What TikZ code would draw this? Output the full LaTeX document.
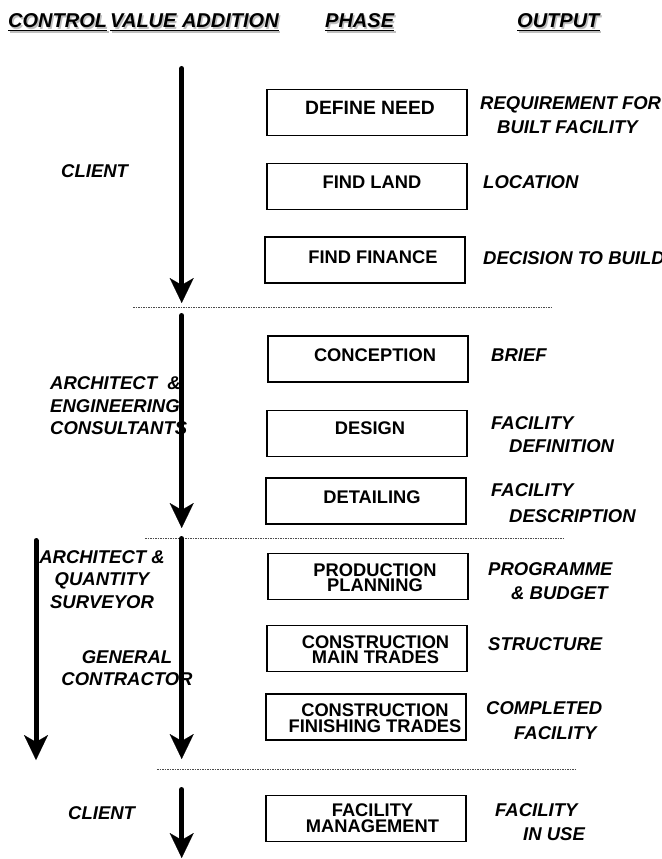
\documentclass[tikz,border=0pt]{standalone}
\usepackage{fontspec}
\setmainfont{Liberation Sans}
\usetikzlibrary{arrows.meta}
\tikzset{
  px/.style={x=1pt,y=-1pt},
  box/.style={draw=black,line width=1.1pt,minimum width=200pt,minimum height=46pt,inner sep=0pt},
  phase/.style={font=\fontsize{18.3}{15.5}\selectfont\bfseries,align=center,inner sep=0pt},
  outlbl/.style={font=\fontsize{18.5}{22}\selectfont\bfseries\itshape,anchor=west,inner sep=0pt},
  ctrl/.style={font=\fontsize{18.5}{22.5}\selectfont\bfseries\itshape,inner sep=0pt},
  head/.style={font=\fontsize{20}{24}\selectfont\bfseries\itshape,anchor=base west,inner sep=0pt},
  headshadow/.style={head,text=gray!50},
  uline/.style={line width=1.5pt},
  sep/.style={draw=gray!60!black,line width=0.8pt,dash pattern=on 1.5pt off 1pt},
  flow/.style={line width=5pt,line cap=round,-{Stealth[length=25pt,width=24pt,inset=7pt,line width=0.1pt]}},
}
\begin{document}
\begin{tikzpicture}[px]
\clip (0,0) rectangle (661,859);
\fill[white] (0,0) rectangle (661,859);

% ---------- header (shadow, then text) ----------
\node[headshadow] (h1s) at (9.5,29.5) {CONTROL};
\node[headshadow] (h2s) at (111.5,29.5) {VALUE ADDITION};
\node[headshadow] (h3s) at (326.5,29.5) {PHASE};
\node[headshadow] (h4s) at (518.5,29.5) {OUTPUT};
\foreach \n in {h1s,h2s,h3s,h4s}
  \draw[uline,gray!50] ([yshift=-2.5pt]\n.base west) -- ([yshift=-2.5pt]\n.base east);
\node[head] (h1) at (8,28) {CONTROL};
\node[head] (h2) at (110,28) {VALUE ADDITION};
\node[head] (h3) at (325,28) {PHASE};
\node[head] (h4) at (517,28) {OUTPUT};
\foreach \n in {h1,h2,h3,h4}
  \draw[uline] ([yshift=-2.5pt]\n.base west) -- ([yshift=-2.5pt]\n.base east);

% ---------- phase boxes ----------
\node[box] (b1) at (367,112.5) {};
\node[box] (b2) at (367,186.5) {};
\node[box] (b3) at (365,260) {};
\node[box] (b4) at (368,359) {};
\node[box] (b5) at (367,433.5) {};
\node[box] (b6) at (366,501) {};
\node[box] (b7) at (368,576.5) {};
\node[box] (b8) at (367,648.5) {};
\node[box] (b9) at (366,717) {};
\node[box] (b10) at (366,818.5) {};

\node[phase,font=\fontsize{19.3}{16}\selectfont\bfseries] (t1) at (370,108) {DEFINE NEED};
\node[phase] (t2) at (372,182) {FIND LAND};
\node[phase] (t3) at (373,257) {FIND FINANCE};
\node[phase] (t4) at (375,355) {CONCEPTION};
\node[phase] (t5) at (370,428) {DESIGN};
\node[phase] (t6) at (372,497) {DETAILING};
\node[phase] (t7) at (375,577.5) {PRODUCTION\\PLANNING};
\node[phase] (t8) at (375.5,649.5) {CONSTRUCTION\\MAIN TRADES};
\node[phase] (t9) at (375,718) {CONSTRUCTION\\FINISHING TRADES};
\node[phase] (t10) at (372.5,818) {FACILITY\\MANAGEMENT};

% ---------- outputs ----------
\node[outlbl] (o1a) at (480,105) {REQUIREMENT FOR};
\node[outlbl] (o1b) at (497,127) {BUILT FACILITY};
\node[outlbl] (o2) at (483,182) {LOCATION};
\node[outlbl] (o3) at (483,258) {DECISION TO BUILD};
\node[outlbl] (o4) at (491,355) {BRIEF};
\node[outlbl] (o5a) at (491,423) {FACILITY};
\node[outlbl] (o5b) at (509,446) {DEFINITION};
\node[outlbl] (o6a) at (491,490) {FACILITY};
\node[outlbl] (o6b) at (509,516) {DESCRIPTION};
\node[outlbl] (o7a) at (488,569) {PROGRAMME};
\node[outlbl] (o7b) at (511,593) {\& BUDGET};
\node[outlbl] (o8) at (488,644) {STRUCTURE};
\node[outlbl] (o9a) at (486,708) {COMPLETED};
\node[outlbl] (o9b) at (514,733) {FACILITY};
\node[outlbl] (o10a) at (495,810) {FACILITY};
\node[outlbl] (o10b) at (523,834) {IN USE};

% ---------- control labels ----------
\node[ctrl,anchor=west] (c1) at (61,171) {CLIENT};
\node[ctrl,anchor=west,align=left] (c2) at (50,405.75) {ARCHITECT\ \ \&\\ENGINEERING\\CONSULTANTS};
\node[ctrl,align=center] (c3) at (102,579.3) {ARCHITECT \&\\QUANTITY\\SURVEYOR};
\node[ctrl,align=center] (c4) at (127,668.25) {GENERAL\\CONTRACTOR};
\node[ctrl,anchor=west] (c5) at (68,813) {CLIENT};

% ---------- stage separators ----------
\coordinate (d1a) at (133,307); \coordinate (d1b) at (552,307);
\coordinate (d2a) at (145,538); \coordinate (d2b) at (563,538);
\coordinate (d3a) at (157,769); \coordinate (d3b) at (577,769);
\draw[sep] (d1a) -- (d1b);
\draw[sep] (d2a) -- (d2b);
\draw[sep] (d3a) -- (d3b);

% ---------- control arrows ----------
\coordinate (a1s) at (181.7,68.5);  \coordinate (a1e) at (181.7,303);
\coordinate (a2s) at (181.7,315.5); \coordinate (a2e) at (181.7,528);
\coordinate (a3s) at (181.7,538.5); \coordinate (a3e) at (181.7,759);
\coordinate (a4s) at (36,540.5);    \coordinate (a4e) at (36,760);
\coordinate (a5s) at (181.7,789.5); \coordinate (a5e) at (181.7,858);
\draw[flow] (a1s) -- (a1e);
\draw[flow] (a2s) -- (a2e);
\draw[flow] (a3s) -- (a3e);
\draw[flow] (a4s) -- (a4e);
\draw[flow] (a5s) -- (a5e);
\end{tikzpicture}
\end{document}
